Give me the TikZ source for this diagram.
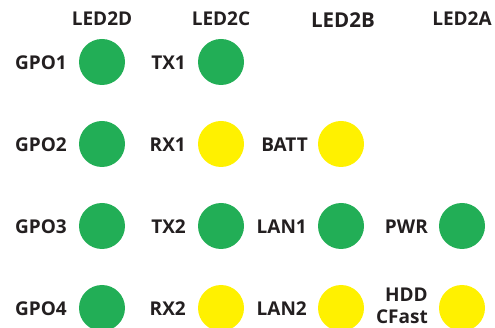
\documentclass[tikz,border=0pt]{standalone}
\usepackage{fontspec}
\setmainfont{Open Sans}
\definecolor{ledgreen}{RGB}{34,174,86}
\definecolor{ledyellow}{RGB}{255,241,0}
\definecolor{ink}{RGB}{35,31,32}
\begin{document}
\begin{tikzpicture}[x=1pt,y=-1pt,
every node/.style={font=\bfseries\fontsize{19}{22}\selectfont,text=ink,inner sep=0pt},
on/.style={circle,fill=ledgreen,minimum size=46pt},
warn/.style={circle,fill=ledyellow,minimum size=46pt},
lbl/.style={anchor=east,align=right},
%head/.style={font=\bfseries\large}
]
\useasboundingbox (0,0) rectangle (495,328);
% column titles
\node (hd) at (102,19) {LED2D};
\node (hc) at (221,19) {LED2C};
\node[font=\bfseries\fontsize{20.5}{22}\selectfont] (hb) at (343,20) {LED2B};
\node (ha) at (462,19) {LED2A};
% LED2D
\node[on] (d1) at (102,62) {};
\node[on] (d2) at (102,144) {};
\node[on] (d3) at (102,226) {};
\node[on] (d4) at (102,308) {};
\node[lbl] (gpo1) at (67,63) {GPO1};
\node[lbl] (gpo2) at (67,145) {GPO2};
\node[lbl] (gpo3) at (67,227) {GPO3};
\node[lbl] (gpo4) at (67,309) {GPO4};
% LED2C
\node[on] (c1) at (221,62) {};
\node[warn] (c2) at (221,144) {};
\node[on] (c3) at (221,226) {};
\node[warn] (c4) at (221,308) {};
\node[lbl] (tx1) at (186,63) {TX1};
\node[lbl] (rx1) at (186,145) {RX1};
\node[lbl] (tx2) at (186,227) {TX2};
\node[lbl] (rx2) at (186,309) {RX2};
% LED2B
\node[warn] (b2) at (341,144) {};
\node[on] (b3) at (341,226) {};
\node[warn] (b4) at (341,308) {};
\node[lbl] (batt) at (308,145) {BATT};
\node[lbl] (lan1) at (307,227) {LAN1};
\node[lbl] (lan2) at (307,309) {LAN2};
% LED2A
\node[on] (a3) at (462,226) {};
\node[warn] (a4) at (462,308) {};
\node[lbl] (pwr) at (428,227) {PWR};
\node[lbl,font=\bfseries\fontsize{19}{22}\selectfont] (hdd) at (428,306) {HDD\\CFast};
\end{tikzpicture}
\end{document}
